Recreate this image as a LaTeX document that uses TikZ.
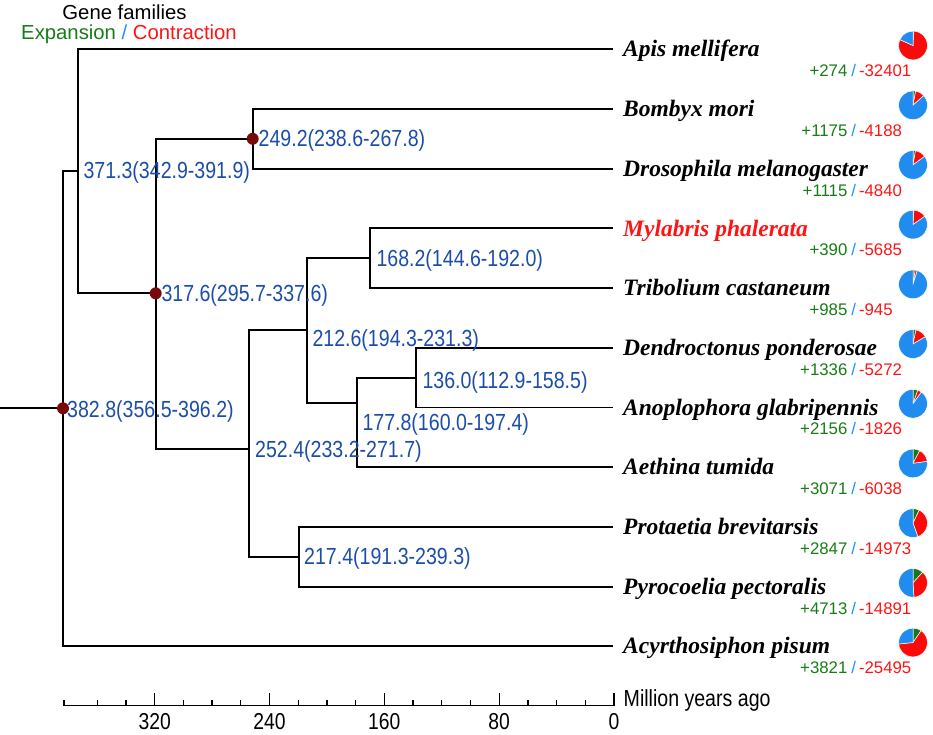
\documentclass[tikz,border=0pt]{standalone}
\usepackage{fontspec}
\setmainfont{Liberation Serif}
\newfontfamily\arial{Liberation Sans}
\newfontfamily\arialn[FakeStretch=0.84]{Liberation Sans}
\definecolor{labblue}{RGB}{28,78,168}
\definecolor{txtgreen}{RGB}{22,125,22}
\definecolor{txtred}{RGB}{255,20,20}
\definecolor{slashblue}{RGB}{30,144,255}
\definecolor{pieblue}{RGB}{33,140,240}
\definecolor{piegreen}{RGB}{25,120,25}
\definecolor{piered}{RGB}{250,10,10}
\definecolor{dotred}{RGB}{120,10,10}
\begin{document}
\begin{tikzpicture}[x=1pt,y=-1pt,
  br/.style={line width=1.9pt, line join=miter},
  lab/.style={font=\arialn\fontsize{23.3}{26}\selectfont, text=labblue, inner sep=0pt, anchor=base west},
  spname/.style={font=\rmfamily\bfseries\itshape\fontsize{23.5}{27}\selectfont, inner sep=0pt, anchor=base west},
  cnt/.style={font=\arial\fontsize{16.8}{19}\selectfont, inner sep=0pt},
  wedge/.style={draw=white, line width=0.5pt},
  axlab/.style={font=\arialn\fontsize{23}{26}\selectfont, inner sep=0pt, anchor=base}]
\useasboundingbox (0,0) rectangle (933,734);

% legend
\node[font=\arial\fontsize{20.3}{24}\selectfont, inner sep=0pt, anchor=base] (leg1) at (124.5,19) {Gene families};
\node[font=\arial\fontsize{20.3}{24}\selectfont, inner sep=0pt, anchor=base] (leg2) at (129,39)
  {\textcolor{txtgreen}{Expansion} \textcolor{slashblue}{/} \textcolor{txtred}{Contraction}};

% leaves, counts, pies
\foreach \i/\nm/\pl/\mi/\g/\r/\col in {
  0/Apis mellifera/+274/-32401/2.47/291.6/black,
  1/Bombyx mori/+1175/-4188/10.6/37.7/black,
  2/Drosophila melanogaster/+1115/-4840/10.0/43.6/black,
  3/Mylabris phalerata/+390/-5685/3.5/51.2/txtred,
  4/Tribolium castaneum/+985/-945/8.9/8.5/black,
  5/Dendroctonus ponderosae/+1336/-5272/12.0/47.4/black,
  6/Anoplophora glabripennis/+2156/-1826/19.4/16.4/black,
  7/Aethina tumida/+3071/-6038/27.6/54.3/black,
  8/Protaetia brevitarsis/+2847/-14973/25.6/134.8/black,
  9/Pyrocoelia pectoralis/+4713/-14891/42.4/134.0/black,
  10/Acyrthosiphon pisum/+3821/-25495/34.4/229.5/black}{
  \pgfmathsetmacro\yy{49.3+59.7*\i}
  \coordinate (e\i) at (612.7,\yy);
  \node[spname, text=\col] (sp\i) at (623,\yy+7.6) {\nm};
  \node[cnt, anchor=base east, text=txtgreen] (cp\i) at (847.6,\yy+27.4) {\pl};
  \node[cnt, anchor=base, text=slashblue] (cs\i) at (853.6,\yy+27.4) {/};
  \node[cnt, anchor=base west, text=txtred] (cm\i) at (858.8,\yy+27.4) {\mi};
  \coordinate (pc\i) at (913,\yy-3.8);
  \fill[piegreen, wedge] (pc\i) -- ++(90:14.4pt) arc[start angle=90, end angle={90-\g}, radius=14.4pt] -- cycle;
  \fill[piered, wedge] (pc\i) -- ++({90-\g}:14.4pt) arc[start angle={90-\g}, end angle={90-\g-\r}, radius=14.4pt] -- cycle;
  \fill[pieblue, wedge] (pc\i) -- ++({90-\g-\r}:14.4pt) arc[start angle={90-\g-\r}, end angle=-270, radius=14.4pt] -- cycle;
}

% internal nodes
\coordinate (stub) at (0,408.3);
\coordinate (n382) at (63,408.3);
\coordinate (n371) at (78.3,170.7);
\coordinate (n317) at (155.7,293.3);
\coordinate (n249) at (252.7,138.8);
\coordinate (n252) at (249,449);
\coordinate (n212) at (307,330.3);
\coordinate (n168) at (370,258.2);
\coordinate (n177) at (357,403);
\coordinate (n136) at (416,377.6);
\coordinate (n217) at (298.7,556.7);

% branches
\draw[br] (stub) -- (n382);
\draw[br] (e0) -| (n371) |- (n317);
\draw[br] (n371) -- (n382 |- n371) |- (e10);
\draw[br] (n249) -- (n317 |- n249) |- (n252);
\draw[br] (e1) -| (n249) |- (e2);
\draw[br] (n212) -- (n252 |- n212) |- (n217);
\draw[br] (n168) -- (n212 |- n168) |- (n177);
\draw[br] (e3) -| (n168) |- (e4);
\draw[br] (n136) -- (n177 |- n136) |- (e7);
\draw[br] (e5) -| (n136) |- (e6);
\draw[br] (e8) -| (n217) |- (e9);

% dots
\fill[dotred] (n382) circle (6pt);
\fill[dotred] (n317) circle (6pt);
\fill[dotred] (n249) circle (6pt);

% node labels
\node[lab] (l382) at (67,417.1) {382.8(356.5-396.2)};
\node[lab] (l371) at (83.3,178.6) {371.3(342.9-391.9)};
\node[lab] (l249) at (258.5,146.6) {249.2(238.6-267.8)};
\node[lab] (l317) at (161.3,301.7) {317.6(295.7-337.6)};
\node[lab] (l168) at (376.3,266.7) {168.2(144.6-192.0)};
\node[lab] (l212) at (312.3,346.7) {212.6(194.3-231.3)};
\node[lab] (l136) at (422.3,388.3) {136.0(112.9-158.5)};
\node[lab] (l177) at (362.3,430) {177.8(160.0-197.4)};
\node[lab] (l252) at (255,457.3) {252.4(233.2-271.7)};
\node[lab] (l217) at (304,564) {217.4(191.3-239.3)};

% time axis
\coordinate (ax0) at (64,705.5);
\coordinate (ax1) at (614,705.5);
\draw[line width=1.6pt] (ax0) -- (ax1);
\draw[line width=1.3pt] (ax0) -- ++(0,-6);
\foreach \t in {20,40,60,100,120,140,180,200,220,260,280,300,340,360}{
  \draw[line width=1.3pt] (614-\t*1.4355,705.5) -- ++(0,-6);
}
\foreach \t in {0,80,160,240,320}{
  \draw[line width=1.3pt] (614-\t*1.4355,705.5) -- ++(0,-12.5);
  \node[axlab] (tk\t) at (614-\t*1.4355,729.3) {\t};
}
\node[font=\arialn\fontsize{23.3}{26}\selectfont, inner sep=0pt, anchor=base west] (mya) at (623.5,706.5) {Million years ago};
\end{tikzpicture}
\end{document}
